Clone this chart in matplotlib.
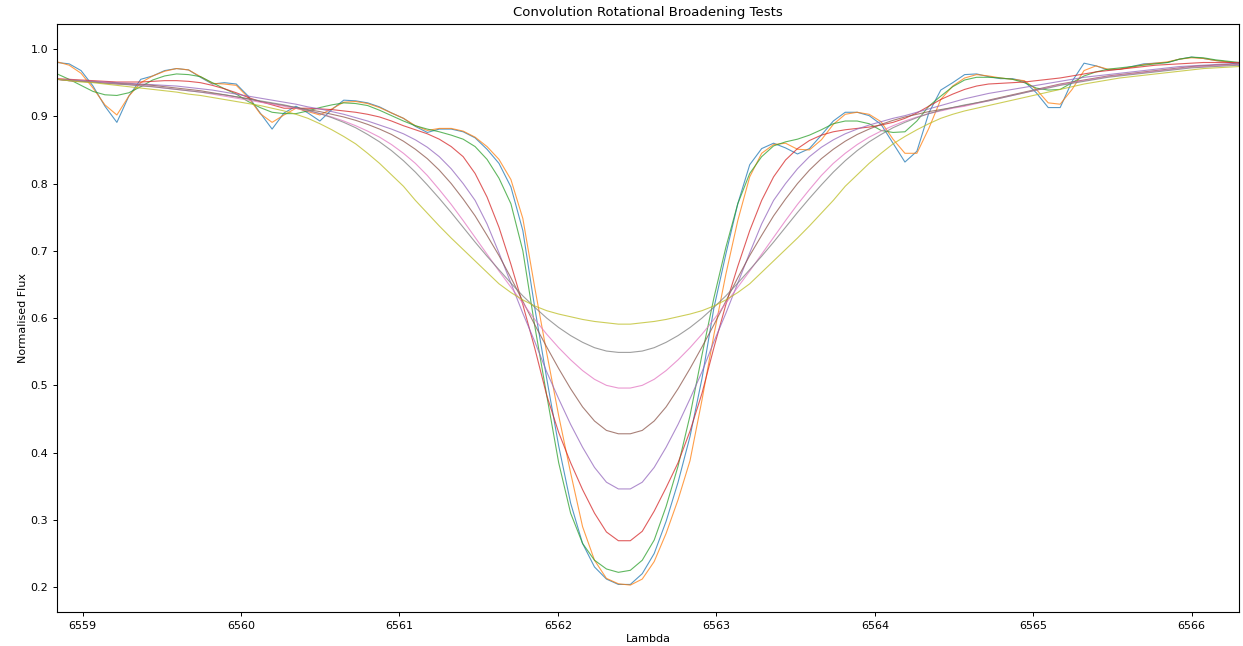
import numpy as np
import matplotlib
matplotlib.use("Agg")
import matplotlib.pyplot as plt

# wavelength grid (uniformly sampled spectrum, 100 samples)
wavelength = np.linspace(6558.84, 6566.30, 100)

flux_original = [
    0.980, 0.978, 0.968, 0.945, 0.915, 0.891, 0.930, 0.955, 0.960, 0.968,
    0.971, 0.969, 0.958, 0.948, 0.950, 0.948, 0.930, 0.905, 0.881, 0.905,
    0.915, 0.905, 0.893, 0.910, 0.924, 0.923, 0.920, 0.914, 0.905, 0.897,
    0.885, 0.876, 0.881, 0.881, 0.877, 0.868, 0.851, 0.830, 0.795, 0.730,
    0.615, 0.510, 0.410, 0.325, 0.265, 0.230, 0.212, 0.204, 0.204, 0.220,
    0.250, 0.298, 0.356, 0.424, 0.510, 0.615, 0.695, 0.770, 0.828, 0.852,
    0.860, 0.853, 0.844, 0.852, 0.872, 0.893, 0.906, 0.906, 0.901, 0.888,
    0.860, 0.832, 0.848, 0.905, 0.939, 0.950, 0.962, 0.963, 0.959, 0.956,
    0.956, 0.952, 0.935, 0.913, 0.913, 0.952, 0.979, 0.975, 0.969, 0.970,
    0.974, 0.978, 0.979, 0.980, 0.985, 0.988, 0.986, 0.983, 0.981, 0.976,
]

flux_v1 = [
    0.981, 0.976, 0.964, 0.942, 0.917, 0.902, 0.930, 0.950, 0.960, 0.967,
    0.971, 0.969, 0.959, 0.949, 0.948, 0.946, 0.928, 0.904, 0.891, 0.902,
    0.912, 0.907, 0.902, 0.911, 0.921, 0.922, 0.919, 0.913, 0.905, 0.897,
    0.886, 0.879, 0.882, 0.882, 0.878, 0.869, 0.855, 0.836, 0.806, 0.748,
    0.645, 0.548, 0.455, 0.370, 0.290, 0.240, 0.213, 0.205, 0.203, 0.212,
    0.238, 0.280, 0.330, 0.388, 0.478, 0.575, 0.665, 0.745, 0.810, 0.845,
    0.858, 0.860, 0.851, 0.850, 0.865, 0.888, 0.903, 0.906, 0.903, 0.892,
    0.866, 0.845, 0.845, 0.882, 0.925, 0.945, 0.957, 0.962, 0.960, 0.957,
    0.955, 0.953, 0.940, 0.920, 0.918, 0.940, 0.968, 0.975, 0.970, 0.970,
    0.973, 0.977, 0.979, 0.981, 0.985, 0.987, 0.986, 0.983, 0.981, 0.979,
]

flux_v2 = [
    0.963, 0.955, 0.946, 0.937, 0.932, 0.931, 0.935, 0.944, 0.954, 0.960,
    0.963, 0.962, 0.959, 0.950, 0.941, 0.933, 0.922, 0.913, 0.906, 0.904,
    0.904, 0.908, 0.913, 0.917, 0.920, 0.919, 0.916, 0.909, 0.901, 0.893,
    0.886, 0.881, 0.877, 0.872, 0.866, 0.855, 0.836, 0.808, 0.770, 0.700,
    0.588, 0.485, 0.385, 0.310, 0.265, 0.240, 0.227, 0.222, 0.225, 0.240,
    0.270, 0.320, 0.380, 0.455, 0.545, 0.630, 0.705, 0.770, 0.815, 0.840,
    0.856, 0.862, 0.866, 0.872, 0.880, 0.889, 0.893, 0.893, 0.889, 0.879,
    0.876, 0.877, 0.893, 0.915, 0.930, 0.944, 0.954, 0.958, 0.958, 0.957,
    0.955, 0.950, 0.942, 0.939, 0.940, 0.950, 0.960, 0.966, 0.970, 0.972,
    0.974, 0.976, 0.978, 0.980, 0.985, 0.988, 0.987, 0.984, 0.982, 0.980,
]

flux_v3 = [
    0.956, 0.955, 0.954, 0.953, 0.952, 0.951, 0.951, 0.951, 0.952, 0.953,
    0.953, 0.952, 0.950, 0.946, 0.941, 0.935, 0.928, 0.922, 0.917, 0.912,
    0.912, 0.912, 0.911, 0.910, 0.908, 0.906, 0.903, 0.899, 0.893, 0.886,
    0.880, 0.874, 0.866, 0.855, 0.840, 0.815, 0.780, 0.735, 0.680, 0.620,
    0.555, 0.485, 0.430, 0.385, 0.345, 0.310, 0.282, 0.269, 0.269, 0.283,
    0.313, 0.348, 0.385, 0.432, 0.488, 0.556, 0.620, 0.677, 0.730, 0.775,
    0.810, 0.835, 0.852, 0.864, 0.872, 0.877, 0.880, 0.882, 0.884, 0.887,
    0.891, 0.897, 0.905, 0.915, 0.925, 0.933, 0.940, 0.945, 0.948, 0.949,
    0.950, 0.951, 0.953, 0.955, 0.957, 0.960, 0.963, 0.966, 0.968, 0.970,
    0.972, 0.974, 0.976, 0.977, 0.978, 0.979, 0.980, 0.980, 0.980, 0.980,
]

flux_v4 = [
    0.955, 0.954, 0.953, 0.952, 0.951, 0.950, 0.949, 0.948, 0.947, 0.946,
    0.945, 0.943, 0.941, 0.939, 0.936, 0.933, 0.930, 0.927, 0.924, 0.921,
    0.918, 0.914, 0.911, 0.907, 0.903, 0.898, 0.893, 0.887, 0.881, 0.874,
    0.865, 0.854, 0.840, 0.822, 0.800, 0.775, 0.740, 0.697, 0.652, 0.607,
    0.565, 0.520, 0.480, 0.442, 0.408, 0.378, 0.356, 0.346, 0.346, 0.356,
    0.378, 0.408, 0.442, 0.480, 0.520, 0.565, 0.607, 0.652, 0.697, 0.740,
    0.775, 0.800, 0.822, 0.840, 0.854, 0.865, 0.874, 0.881, 0.887, 0.892,
    0.897, 0.901, 0.906, 0.911, 0.916, 0.921, 0.926, 0.930, 0.934, 0.937,
    0.940, 0.943, 0.946, 0.949, 0.952, 0.955, 0.958, 0.960, 0.962, 0.964,
    0.966, 0.968, 0.970, 0.972, 0.974, 0.975, 0.976, 0.977, 0.978, 0.979,
]

flux_v5 = [
    0.955, 0.953, 0.952, 0.951, 0.950, 0.949, 0.948, 0.947, 0.946, 0.944,
    0.942, 0.940, 0.938, 0.935, 0.932, 0.929, 0.926, 0.922, 0.919, 0.916,
    0.913, 0.910, 0.907, 0.903, 0.899, 0.894, 0.888, 0.881, 0.873, 0.863,
    0.851, 0.837, 0.820, 0.800, 0.777, 0.752, 0.723, 0.693, 0.660, 0.625,
    0.590, 0.557, 0.525, 0.495, 0.468, 0.447, 0.433, 0.428, 0.428, 0.433,
    0.447, 0.468, 0.495, 0.525, 0.557, 0.590, 0.625, 0.660, 0.693, 0.723,
    0.752, 0.777, 0.800, 0.820, 0.837, 0.851, 0.863, 0.873, 0.881, 0.888,
    0.894, 0.899, 0.903, 0.907, 0.910, 0.913, 0.916, 0.920, 0.924, 0.928,
    0.932, 0.936, 0.940, 0.944, 0.948, 0.951, 0.954, 0.957, 0.960, 0.962,
    0.964, 0.966, 0.968, 0.970, 0.972, 0.974, 0.975, 0.976, 0.977, 0.978,
]

flux_v6 = [
    0.955, 0.953, 0.952, 0.951, 0.950, 0.948, 0.947, 0.946, 0.944, 0.942,
    0.940, 0.938, 0.936, 0.933, 0.930, 0.927, 0.924, 0.921, 0.918, 0.915,
    0.912, 0.908, 0.904, 0.899, 0.893, 0.886, 0.878, 0.869, 0.858, 0.845,
    0.830, 0.812, 0.791, 0.769, 0.745, 0.720, 0.695, 0.670, 0.646, 0.622,
    0.598, 0.576, 0.556, 0.538, 0.522, 0.509, 0.500, 0.496, 0.496, 0.500,
    0.509, 0.522, 0.538, 0.556, 0.576, 0.598, 0.622, 0.646, 0.670, 0.695,
    0.720, 0.745, 0.769, 0.791, 0.812, 0.830, 0.845, 0.858, 0.869, 0.878,
    0.886, 0.893, 0.899, 0.904, 0.908, 0.912, 0.915, 0.919, 0.923, 0.927,
    0.931, 0.935, 0.939, 0.943, 0.947, 0.950, 0.953, 0.956, 0.959, 0.961,
    0.963, 0.965, 0.967, 0.969, 0.971, 0.973, 0.974, 0.975, 0.976, 0.977,
]

flux_v7 = [
    0.955, 0.953, 0.952, 0.951, 0.949, 0.948, 0.947, 0.945, 0.944, 0.942,
    0.940, 0.938, 0.936, 0.934, 0.932, 0.929, 0.926, 0.923, 0.920, 0.917,
    0.913, 0.909, 0.904, 0.898, 0.891, 0.883, 0.873, 0.862, 0.849, 0.834,
    0.817, 0.798, 0.778, 0.757, 0.735, 0.713, 0.692, 0.672, 0.652, 0.633,
    0.616, 0.600, 0.586, 0.574, 0.564, 0.556, 0.551, 0.549, 0.549, 0.551,
    0.556, 0.564, 0.574, 0.586, 0.600, 0.616, 0.633, 0.652, 0.672, 0.692,
    0.713, 0.735, 0.757, 0.778, 0.798, 0.817, 0.834, 0.849, 0.862, 0.873,
    0.883, 0.891, 0.898, 0.904, 0.909, 0.913, 0.917, 0.920, 0.923, 0.927,
    0.931, 0.935, 0.939, 0.942, 0.946, 0.949, 0.952, 0.955, 0.958, 0.960,
    0.962, 0.964, 0.966, 0.968, 0.970, 0.972, 0.973, 0.974, 0.975, 0.976,
]

flux_v8 = [
    0.955, 0.953, 0.951, 0.950, 0.948, 0.946, 0.944, 0.942, 0.940, 0.938,
    0.936, 0.933, 0.931, 0.928, 0.925, 0.922, 0.919, 0.916, 0.912, 0.908,
    0.903, 0.897, 0.889, 0.880, 0.870, 0.859, 0.845, 0.830, 0.813, 0.796,
    0.775, 0.756, 0.737, 0.719, 0.702, 0.685, 0.668, 0.651, 0.638, 0.627,
    0.618, 0.611, 0.606, 0.602, 0.598, 0.595, 0.593, 0.591, 0.591, 0.593,
    0.595, 0.598, 0.602, 0.606, 0.611, 0.618, 0.627, 0.638, 0.651, 0.668,
    0.685, 0.702, 0.719, 0.737, 0.756, 0.775, 0.796, 0.813, 0.830, 0.845,
    0.859, 0.870, 0.880, 0.889, 0.897, 0.903, 0.908, 0.912, 0.916, 0.920,
    0.924, 0.928, 0.932, 0.936, 0.940, 0.944, 0.948, 0.951, 0.954, 0.957,
    0.959, 0.961, 0.963, 0.965, 0.967, 0.969, 0.971, 0.972, 0.973, 0.974,
]

series = [flux_original, flux_v1, flux_v2, flux_v3, flux_v4,
          flux_v5, flux_v6, flux_v7, flux_v8]

title = "Convolution Rotational Broadening Tests"
xlabel = "Lambda"
ylabel = "Normalised Flux"

fig = plt.figure(figsize=(12.43, 6.46), dpi=100)
ax = fig.add_axes([0.046, 0.0526, 0.951, 0.910])

for k, ys in enumerate(series):
    ax.plot(wavelength, ys, color=f"C{k}", lw=0.8, alpha=0.75)

ax.set_xlim(wavelength[0], wavelength[-1])
ax.set_ylim(0.163, 1.037)
ax.set_yticks([0.2, 0.3, 0.4, 0.5, 0.6, 0.7, 0.8, 0.9, 1.0])
ax.set_xticks([6559, 6560, 6561, 6562, 6563, 6564, 6565, 6566])
ax.tick_params(labelsize=8, length=3, width=0.7)
for s in ax.spines.values():
    s.set_linewidth(0.8)
ax.set_title(title, fontsize=9.5, pad=6)
ax.set_xlabel(xlabel, fontsize=8, labelpad=2)
ax.set_ylabel(ylabel, fontsize=8, labelpad=2)

fig.savefig("out.png", dpi=100)
